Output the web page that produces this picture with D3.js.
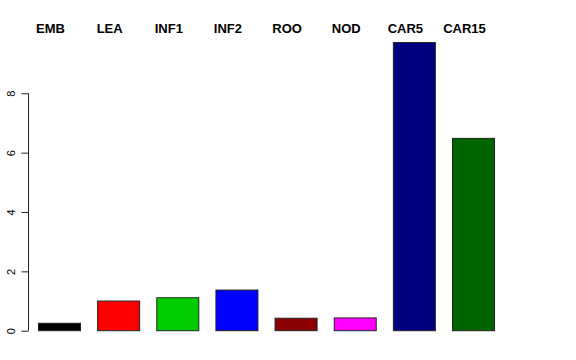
<!DOCTYPE html>
<html>
<head>
<meta charset="utf-8">
<script src="https://cdn.jsdelivr.net/npm/d3@7"></script>
<style>
  body { margin: 0; background: #fff; }
  svg { display: block; font-family: "Liberation Sans", Arial, Helvetica, sans-serif; }
</style>
</head>
<body>
<svg id="chart"></svg>
<script>
// bar categories, heights and fills
var categories = ["EMB", "LEA", "INF1", "INF2", "ROO", "NOD", "CAR5", "CAR15"];
var values = [0.25, 1.0, 1.11, 1.37, 0.42, 0.43, 9.71, 6.48];
var colors = ["#000000", "#ff0000", "#00cd00", "#0000ff", "#8b0000", "#ff00ff", "#000080", "#006400"];
var yTicks = [0, 2, 4, 6, 8];

var width = 576, height = 360;

var svg = d3.select("#chart")
    .attr("width", width)
    .attr("height", height);

var x = d3.scaleBand()
    .domain(categories)
    .range([38, 494])
    .paddingInner(0.29)
    .paddingOuter(0);

var y = d3.scaleLinear()
    .domain([0, 8])
    .range([330.7, 93.3]);

// bars
svg.append("g")
    .selectAll("rect")
    .data(categories)
    .enter()
        .append("rect")
        .attr("x", function(d){ return x(d) + 0.5; })
        .attr("y", function(d, i){ return y(values[i]); })
        .attr("width", x.bandwidth())
        .attr("height", function(d, i){ return y(0) - y(values[i]); })
        .style("fill", function(d, i){ return colors[i]; })
        .style("stroke", "#222")
        .style("stroke-width", 1);

// left axis, R style: rotated labels
var axis = svg.append("g")
    .attr("transform", "translate(28.5,0)")
    .call(d3.axisLeft(y).tickValues(yTicks).tickSize(7).tickSizeOuter(0));
axis.select(".domain").attr("d", "M0," + y(0) + "V" + y(8)).style("stroke", "#222");
axis.selectAll(".tick line").style("stroke", "#222");
axis.selectAll(".tick text")
    .attr("x", null).attr("dy", null)
    .attr("transform", "translate(-14,0) rotate(-90)")
    .attr("text-anchor", "middle")
    .style("font-size", "11px")
    .style("font-family", "'Liberation Sans', Arial, sans-serif")
    .style("fill", "#000");

// category labels along the top
svg.append("g")
    .selectAll("text")
    .data(categories)
    .enter()
        .append("text")
        .attr("x", function(d){ return x(d) + x.bandwidth() / 2 - 8.5; })
        .attr("y", 33)
        .attr("text-anchor", "middle")
        .style("font-weight", "bold")
        .style("font-size", "13px")
        .text(function(d){ return d; });
</script>
</body>
</html>
